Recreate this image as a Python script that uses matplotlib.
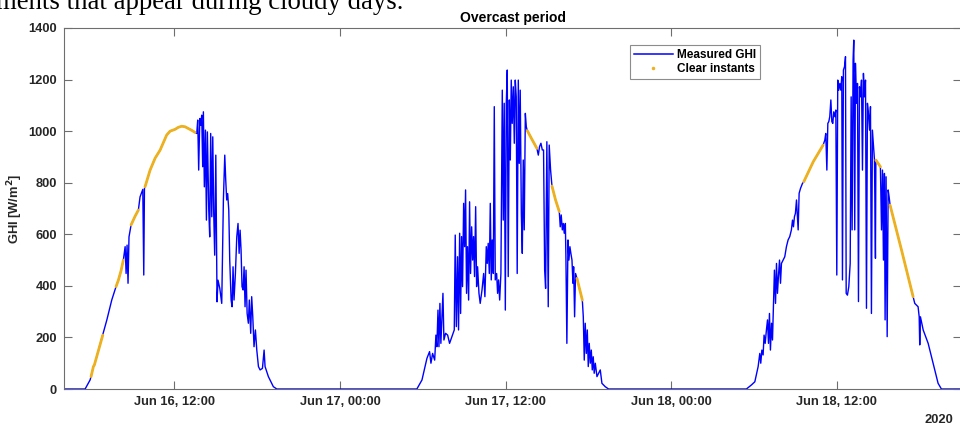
import numpy as np
import pandas as pd
import matplotlib
matplotlib.use("Agg")
import matplotlib.pyplot as plt
import matplotlib.dates as mdates
from matplotlib.lines import Line2D

# measured GHI (hours after 2020-06-16 00:00, W/m2)
day1_h = [4.00, 5.53, 5.89, 5.96, 6.13, 6.20, 6.57, 6.81, 7.10, 7.46,
          7.77, 7.94, 8.14, 8.30, 8.43, 8.50, 8.57, 8.64, 8.71, 8.86,
          9.15, 9.39, 9.51, 9.71, 9.78, 9.83, 9.87, 10.24, 10.60, 10.96,
          11.20, 11.44, 11.69, 12.05, 12.29, 12.53, 12.77, 13.01, 13.26, 13.50,
          13.62, 13.69, 13.76, 13.84, 13.91,
          13.98, 14.05, 14.10, 14.17, 14.25, 14.32, 14.39, 14.49, 14.56, 14.63,
          14.71, 14.78, 14.85, 14.92, 15.00, 15.09, 15.16, 15.29, 15.43, 15.55,
          15.65, 15.72, 15.79, 15.86, 15.94, 16.01, 16.11, 16.18, 16.25, 16.32,
          16.42, 16.52, 16.61, 16.69, 16.76, 16.83, 16.90, 16.98, 17.05, 17.12,
          17.19, 17.27, 17.36, 17.43, 17.53, 17.60, 17.68, 17.77, 17.87, 17.97,
          18.09, 18.21, 18.38, 18.50, 18.57, 18.81, 19.17, 19.42]
day1_ghi = [0, 0, 35, 48, 87, 93, 164, 209, 267, 345,
            397, 422, 460, 500, 552, 448, 558, 410, 590, 636,
            670, 694, 745, 774, 442, 778, 784, 849, 895, 926,
            955, 985, 1000, 1007, 1015, 1019, 1017, 1010, 1003, 995,
            991, 1043, 849, 1049, 1023,
            1062, 862, 1075, 784, 1004, 655, 997, 694, 590, 991,
            668, 978, 681, 519, 907, 338, 422, 390, 332, 733,
            907, 810, 733, 758, 694, 500, 345, 319, 474, 345,
            448, 590, 642, 526, 616, 539, 397, 384, 474, 319,
            461, 293, 255, 345, 216, 358, 280, 164, 229, 151,
            87, 74, 80, 151, 87, 48, 9, 0]

day2_h = [29.57, 29.94, 30.30, 30.49, 30.59, 30.71, 30.86, 30.95, 31.02, 31.10,
          31.17, 31.24, 31.31, 31.46, 31.53, 31.65, 31.80, 31.94, 32.11, 32.28,
          32.35, 32.43, 32.52, 32.59, 32.67, 32.74, 32.81, 32.88, 32.96, 33.03,
          33.10, 33.17, 33.24, 33.32, 33.39, 33.46, 33.54, 33.61, 33.68, 33.75,
          33.83, 33.90, 33.97, 34.07, 34.16, 34.29, 34.41, 34.50, 34.60, 34.67,
          34.74, 34.82, 34.89, 34.96, 35.03, 35.11, 35.18, 35.25, 35.35, 35.42,
          35.49, 35.57, 35.66, 35.76, 35.83, 35.90, 35.98, 36.05, 36.12, 36.19,
          36.27, 36.34, 36.41, 36.48, 36.56, 36.63, 36.70, 36.77, 36.84, 36.92,
          36.99, 37.06, 37.14, 37.21, 37.28, 37.35, 37.43, 37.50, 37.57, 37.93,
          38.27, 38.37, 38.46, 38.56, 38.66, 38.75, 38.83, 38.90, 38.99, 39.09,
          39.16, 39.26, 39.36, 39.62, 39.89, 39.96, 40.03, 40.11, 40.18, 40.25,
          40.33, 40.37, 40.44, 40.52, 40.59, 40.66, 40.73, 40.81, 40.88, 40.93,
          41.00, 41.07, 41.17, 41.56, 41.63, 41.70, 41.77, 41.85, 41.92, 41.99,
          42.06, 42.14, 42.21, 42.28, 42.35, 42.42, 42.50, 42.62, 42.74, 42.86,
          42.98, 43.22, 43.46]
day2_ghi = [0, 35, 119, 145, 100, 138, 112, 209, 164, 306,
            164, 332, 177, 371, 190, 216, 209, 177, 203, 229,
            597, 242, 513, 229, 604, 293, 591, 397, 720, 552,
            772, 371, 552, 345, 726, 448, 629, 500, 591, 436,
            707, 397, 474, 371, 332, 384, 448, 358, 552, 487,
            565, 448, 720, 423, 578, 448, 1095, 423, 448, 371,
            423, 345, 448, 1159, 655, 1108, 306, 1108, 1237, 436,
            1121, 888, 1198, 1030, 1172, 953, 1198, 1133, 448, 1198,
            875, 1159, 681, 526, 888, 617, 1069, 1017, 1002, 966,
            933, 907, 940, 953, 927, 927, 461, 390, 959, 319,
            946, 849, 787, 733, 688, 629, 675, 617, 642, 604,
            642, 513, 177, 578, 500, 552, 526, 500, 410, 474,
            280, 448, 429, 345, 280, 112, 255, 138, 229, 87,
            177, 100, 151, 74, 125, 61, 100, 48, 61, 74,
            22, 9, 0]

day3_h = [53.45, 53.82, 54.06, 54.30, 54.42, 54.49, 54.57, 54.66, 54.73, 54.81,
          54.90, 54.98, 55.05, 55.12, 55.19, 55.27, 55.34, 55.41, 55.48, 55.56,
          55.63, 55.70, 55.77, 55.85, 55.92, 55.99, 56.11, 56.23, 56.35, 56.47,
          56.59, 56.71, 56.79, 56.86, 56.93, 57.00, 57.08, 57.15, 57.20, 57.27,
          57.37, 57.51, 57.61, 58.29, 59.01, 59.13, 59.20, 59.28, 59.35, 59.42,
          59.49, 59.57, 59.64, 59.71, 59.78, 59.86, 59.93, 60.00, 60.07, 60.14,
          60.22, 60.29, 60.36, 60.41, 60.48, 60.56, 60.63, 60.68, 60.77, 60.87,
          60.97, 61.04, 61.11, 61.18, 61.23, 61.30, 61.35, 61.43, 61.50, 61.57,
          61.64, 61.71, 61.79, 61.86, 61.93, 62.00, 62.08, 62.15, 62.22, 62.29,
          62.37, 62.44, 62.51, 62.58, 62.66, 62.73, 62.80, 62.83, 63.16, 63.24,
          63.31, 63.38, 63.45, 63.50, 63.57, 63.65, 63.72, 63.79, 63.86, 64.32,
          64.69, 65.05, 65.53, 65.65, 65.89, 65.97, 66.01, 66.06, 66.26, 66.62,
          66.98, 67.34, 67.58, 69.00]
day3_ghi = [0, 16, 28, 87, 138, 100, 151, 132, 209, 177,
            229, 268, 177, 293, 151, 255, 190, 319, 461, 332,
            487, 371, 436, 500, 410, 487, 500, 513, 552, 578,
            591, 617, 655, 629, 668, 681, 733, 668, 617, 759,
            778, 797, 804, 881, 946, 965, 991, 849, 1030, 1037,
            1056, 1121, 1037, 1030, 1075, 1056, 1082, 442, 1198, 1159,
            1185, 1159, 1211, 423, 1237, 1250, 1289, 371, 364, 397,
            487, 1133, 617, 1276, 1353, 617, 1263, 1108, 1185, 339,
            1172, 1133, 1198, 849, 1224, 1133, 1198, 313, 1108, 1069,
            1004, 1095, 293, 1004, 940, 888, 507, 888, 862, 617,
            849, 500, 836, 268, 823, 203, 772, 746, 713, 617,
            539, 461, 358, 332, 319, 280, 171, 280, 229, 177,
            100, 22, 0, 0]

# clear-sky instants (start, end) in the same hours
clear_spans = [(5.96, 6.20), (6.57, 6.81), (7.77, 8.30), (8.86, 9.39), (9.87, 13.50),
               (37.57, 38.27), (39.36, 39.89), (41.17, 41.56),
               (57.61, 59.01), (62.83, 63.16), (63.86, 65.53)]

hours = np.array(day1_h + day2_h + day3_h)
ghi = np.array(day1_ghi + day2_ghi + day3_ghi, dtype=float)
t = pd.Timestamp("2020-06-16") + pd.to_timedelta(hours, unit="h")

is_clear = np.zeros(len(hours), dtype=bool)
for a, b in clear_spans:
    is_clear |= (hours >= a - 1e-6) & (hours <= b + 1e-6)
ghi_clear = np.where(is_clear, ghi, np.nan)

plt.rcParams['font.family'] = ['Liberation Sans', 'DejaVu Sans']
txt = '#262626'
edge = '#6e6e6e'

fig = plt.figure(figsize=(9.6, 4.25), dpi=100)
ax = fig.add_axes([64 / 960, 36 / 425, 897 / 960, 361 / 425])

ax.plot(t, ghi, color='#0000FF', lw=1.0, zorder=2)
ax.plot(t, ghi_clear, color='#EDB120', lw=2.0, solid_capstyle='round', zorder=3)

ax.set_xlim(pd.Timestamp("2020-06-16 04:00"), pd.Timestamp("2020-06-18 21:00"))
ax.set_ylim(0, 1400)
ax.set_yticks(np.arange(0, 1401, 200))
ax.xaxis.set_major_locator(mdates.HourLocator(byhour=[0, 12]))
ax.xaxis.set_major_formatter(mdates.DateFormatter('%b %d, %H:%M'))
ax.tick_params(direction='in', length=6, width=0.8, color=edge, top=True, right=True,
               labelsize=9.3, labelcolor=txt, pad=5)
for lbl in ax.get_xticklabels() + ax.get_yticklabels():
    lbl.set_fontweight('bold')
for s in ax.spines.values():
    s.set_color(edge)
    s.set_linewidth(0.8)

ax.set_title('Overcast period', fontsize=10, fontweight='bold', color='black', pad=4)
ax.set_ylabel(r'GHI [W/m$^\mathbf{2}$]', fontsize=9.3, fontweight='bold', color=txt)
ax.yaxis.set_label_coords(-0.043, 0.5)
ax.text(0.975, -0.085, '2020', transform=ax.transAxes, ha='center', va='center',
        fontsize=9.3, fontweight='bold', color=txt)

handles = [Line2D([], [], color='#0000FF', lw=1.1),
           Line2D([], [], color='#EDB120', marker='.', markersize=3, lw=0)]
leg = ax.legend(handles, ['Measured GHI', 'Clear instants'], loc='upper left',
                bbox_to_anchor=(0.631, 0.952), fancybox=False, framealpha=1,
                edgecolor='#8c8c8c', handlelength=3.3, handletextpad=0.4,
                borderpad=0.3, labelspacing=0.2, borderaxespad=0,
                prop={'size': 8.5, 'weight': 'bold'})
leg.get_frame().set_linewidth(0.8)

fig.text(-0.004, 0.978, 'ments that appear during cloudy days.', fontsize=19.3,
         family='Liberation Serif', va='baseline', ha='left', color='black')

fig.savefig('out.png', dpi=100)
